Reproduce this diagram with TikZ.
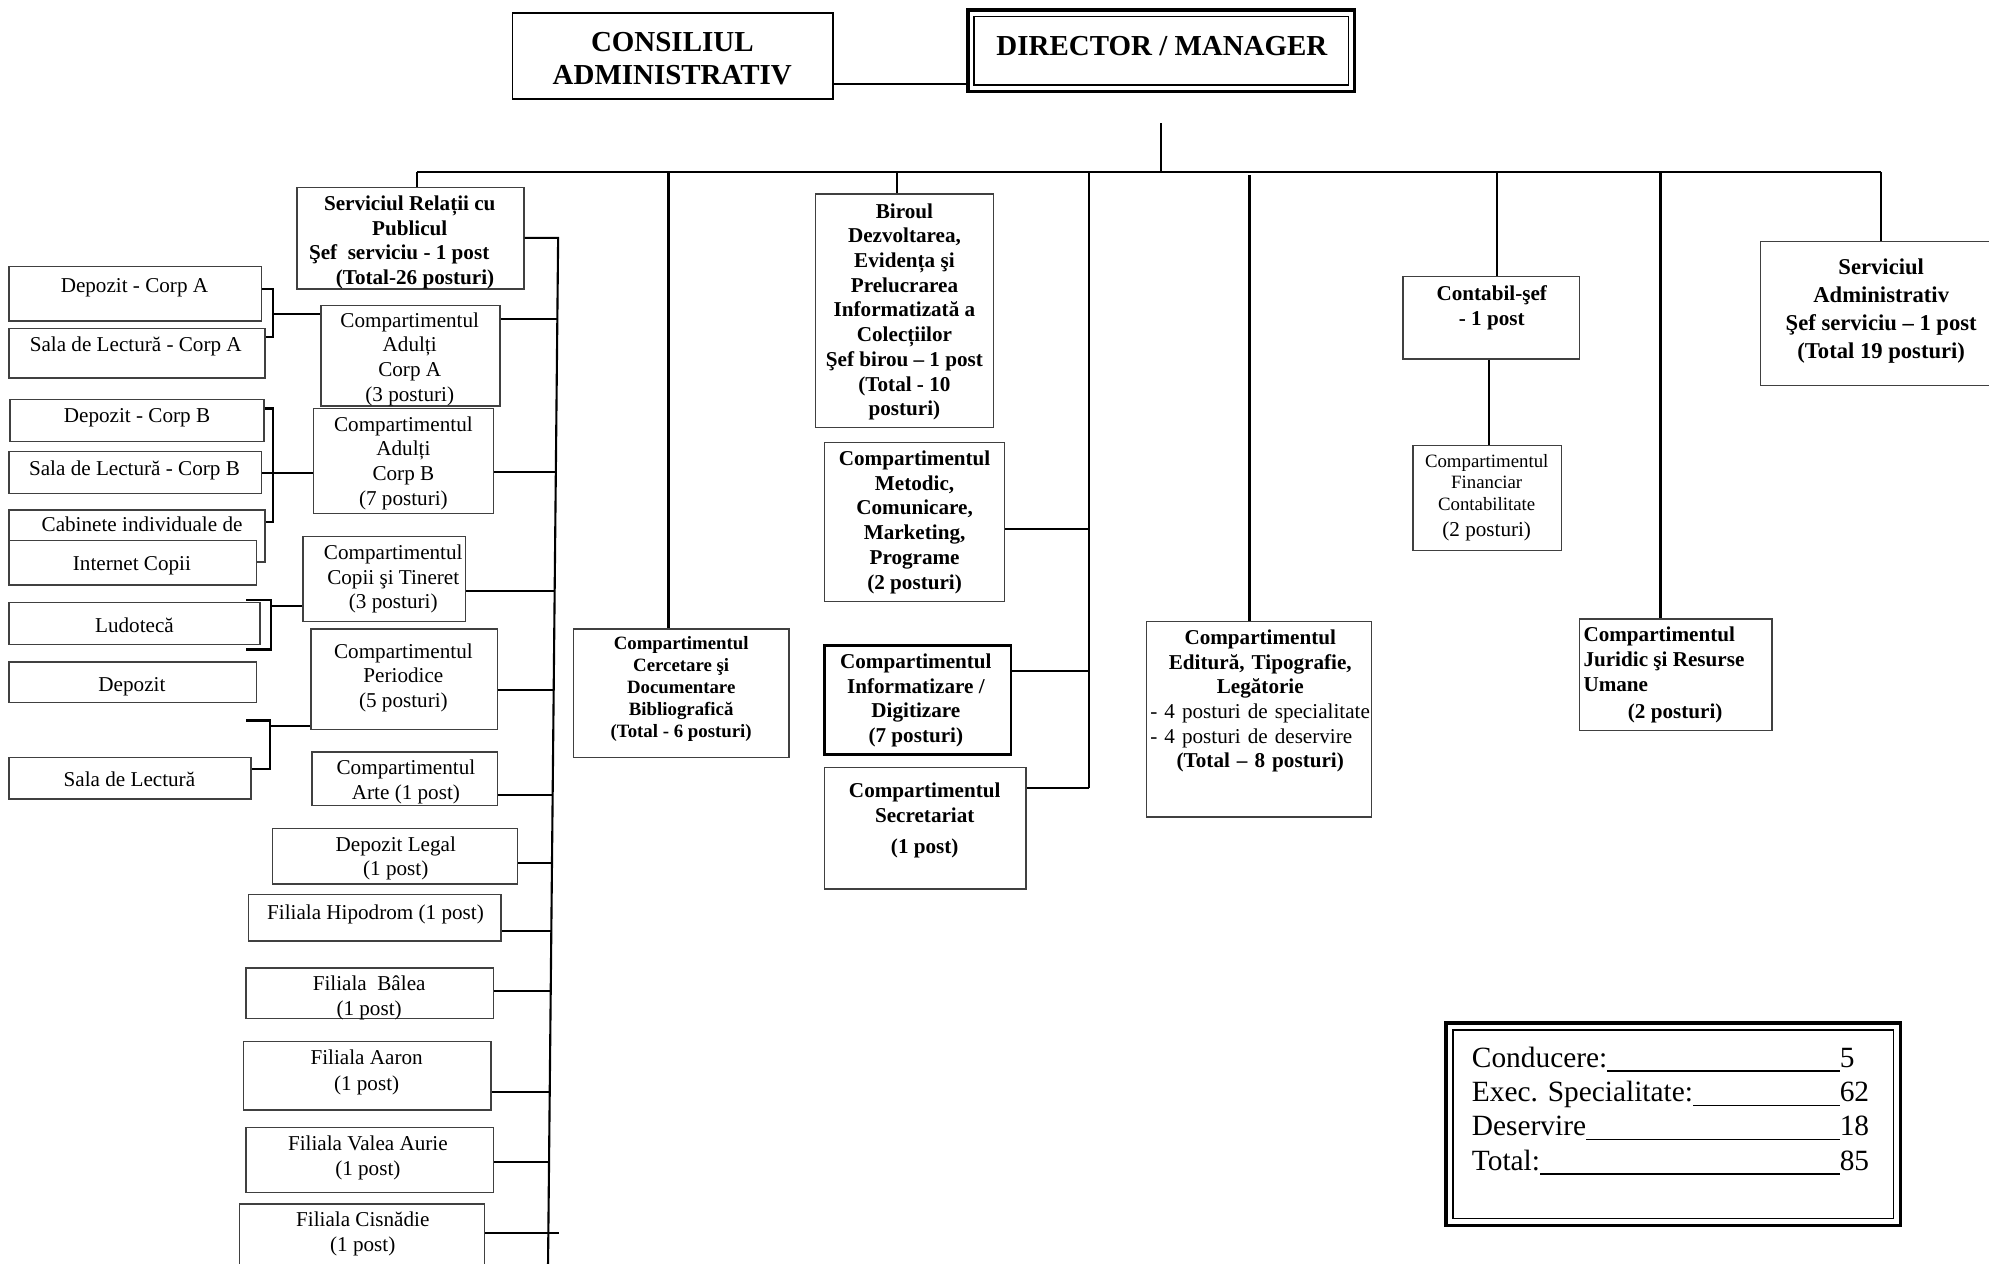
\documentclass[tikz,border=0pt]{standalone}
\usepackage{fontspec}
\setmainfont{Liberation Serif}
\usetikzlibrary{calc,fit}
\newcommand{\ufill}{\leaders\vrule height -1.4pt depth 2.1pt\hfill}
\tikzset{
  bx/.style={draw=black!75, line width=0.7pt, fill=white, inner sep=0pt},
  conn/.style={line width=1pt},
  tt/.style={align=center, inner sep=0pt, anchor=north, font=\fontsize{10}{11.7}\selectfont},
  tb/.style={tt, font=\fontsize{10}{11.7}\selectfont\bfseries},
}
\begin{document}
\begin{tikzpicture}[x=0.6pt,y=-0.6pt]
\useasboundingbox (0,0) rectangle (1568,996);

% ---------- top ----------
\node[bx, draw=black, line width=0.9pt, fit={(404,10) (657,78)}] (cons) {};
\node[tt, font=\fontsize{13.7}{15.6}\selectfont\bfseries] (cons-t) at (530,25.5) {CONSILIUL\\ADMINISTRATIV};
\node[bx, draw=black, line width=1.6pt, fit={(763,8) (1068,72)}] (dir) {};
\node[bx, draw=black, line width=0.7pt, fit={(768,13) (1063,67)}] (dir-in) {};
\node[tt, font=\fontsize{13.7}{15.6}\selectfont\bfseries] (dir-t) at (916,28.5) {DIRECTOR / MANAGER};
\coordinate (cdY) at (700,66);
\draw[conn] (cons.east |- cdY) -- (dir.west |- cdY);

% bus
\coordinate (b1) at (328.6,135.5);
\coordinate (b2) at (527,135.5);
\coordinate (b3) at (707,135.5);
\coordinate (b4) at (858.5,135.5);
\coordinate (b5) at (985,138);
\coordinate (b6) at (1180,135.5);
\coordinate (b7) at (1309,135.5);
\coordinate (b8) at (1483,135.5);
\coordinate (bD) at (915,135.5);
\coordinate (dtop) at (915,97);
\draw[conn] (b1) -- (b8);
\draw[conn] (dtop) -- (bD);

% ---------- left column ----------
\node[bx, fit={(234,148) (413,228)}] (srp) {};
\node[tb] (srp-t) at (323,154) {Serviciul Relații cu\\Publicul\\Şef\ \ serviciu - 1 post\kern10pt\hbox{}\\\ \ (Total-26 posturi)};
\node[bx, fit={(253,241) (394,320)}] (adA) {};
\node[tt] (adA-t) at (323,246) {Compartimentul\\Adulți\\Corp A\\(3 posturi)};
\node[bx, fit={(247,322) (389,405)}] (adB) {};
\node[tt] (adB-t) at (318,328) {Compartimentul\\Adulți\\Corp B\\(7 posturi)};
\node[bx, fit={(239,423) (367,490)}] (copii) {};
\node[tt] (copii-t) at (310,429) {Compartimentul\\Copii şi Tineret\\(3 posturi)};
\node[bx, fit={(245,496) (392,575)}] (period) {};
\node[tt] (period-t) at (318,507) {Compartimentul\\Periodice\\(5 posturi)};
\node[bx, fit={(246,593) (392,635)}] (arte) {};
\node[tt] (arte-t) at (320,599) {Compartimentul\\Arte (1 post)};
\node[bx, fit={(215,653) (408,697)}] (dlegal) {};
\node[tt] (dlegal-t) at (312,659) {Depozit Legal\\(1 post)};
\node[bx, fit={(196,705) (395,742)}] (hipo) {};
\node[tt] (hipo-t) at (296,713) {Filiala Hipodrom (1 post)};
\node[bx, fit={(194,763) (389,803)}] (balea) {};
\node[tt] (balea-t) at (291,769) {Filiala\ \ Bâlea\\(1 post)};
\node[bx, fit={(192,821) (387,875)}] (aaron) {};
\node[tt] (aaron-t) at (289,827) {Filiala Aaron\\[1pt](1 post)};
\node[bx, fit={(194,889) (389,940)}] (valea) {};
\node[tt] (valea-t) at (290,895) {Filiala Valea Aurie\\(1 post)};
\node[bx, fit={(189,949) (382,1010)}] (cisn) {};
\node[tt] (cisn-t) at (286,955) {Filiala Cisnădie\\(1 post)};

% far left
\node[bx, fit={(7,210) (206,253)}] (depA) {};
\node[tt] (depA-t) at (106,219) {Depozit - Corp A};
\node[bx, fit={(7,259) (209,298)}] (salaA) {};
\node[tt] (salaA-t) at (107,265) {Sala de Lectură - Corp A};
\node[bx, fit={(8,315) (208,348)}] (depB) {};
\node[tt] (depB-t) at (108,322) {Depozit - Corp B};
\node[bx, fit={(7,356) (206,389)}] (salaB) {};
\node[tt] (salaB-t) at (106,363) {Sala de Lectură - Corp B};
\node[bx, fit={(7,402) (209,443)}] (cab) {};
\node[tt] (cab-t) at (112,407) {Cabinete individuale de};
\node[bx, fit={(7,426) (202,461)}] (inet) {};
\node[tt] (inet-t) at (104,438) {Internet Copii};
\node[bx, fit={(7,475) (205,508)}] (ludo) {};
\node[tt] (ludo-t) at (106,487) {Ludotecă};
\node[bx, fit={(7,522) (202,554)}] (depz) {};
\node[tt] (depz-t) at (104,534) {Depozit};
\node[bx, fit={(7,597) (198,630)}] (sala) {};
\node[tt] (sala-t) at (102,608) {Sala de Lectură};

% brackets
\coordinate (brAt) at (215,228); \coordinate (brAb) at (215,266); \coordinate (brAm) at (215,247.5);
\draw[conn] (depA.east |- brAt) -- (brAt) -- (brAb) -- (salaA.east |- brAb);
\draw[conn] (brAm) -- (adA.west |- brAm);
\coordinate (brBt) at (215,322); \coordinate (brBb) at (215,411.5); \coordinate (brBm) at (215,373);
\draw[conn] (depB.east |- brBt) -- (brBt) -- (brBb) -- (cab.east |- brBb);
\draw[conn] (salaB.east |- brBm) -- (adB.west |- brBm);
\coordinate (brCt) at (213.5,473); \coordinate (brCb) at (213.5,512); \coordinate (brCm) at (213.5,478);
\coordinate (ctL) at (194,473); \coordinate (cbL) at (194,512);
\draw[conn] (ctL) -- (brCt) -- (brCb) -- (cbL);
\draw[conn] (brCm) -- (copii.west |- brCm);
\coordinate (brDt) at (213,568); \coordinate (brDb) at (213,606); \coordinate (brDm) at (213,572);
\coordinate (dtL) at (194,568);
\draw[conn] (dtL) -- (brDt) -- (brDb) -- (sala.east |- brDb);
\draw[conn] (brDm) -- (period.west |- brDm);

% column of left side
\coordinate (colT) at (440,187.5);
\coordinate (colB) at (432,1000);
\draw[conn] (b1) -- (srp.north -| b1);
\draw[conn] (srp.east |- colT) -- (colT) -- (colB);
\foreach \n/\yy in {adA/251.5, adB/372, copii/466, period/544, arte/627, dlegal/680, hipo/734, balea/781, aaron/861, valea/916}{
  \coordinate (c\n) at ($(colT)!{(\yy-187.5)/812.5}!(colB)$);
  \draw[conn] (\n.east |- c\n) -- (c\n);
}
\coordinate (ccisn) at (441,972);
\draw[conn] (cisn.east |- ccisn) -- (ccisn);

% ---------- middle ----------
\node[bx, fit={(452,496) (622,597)}] (cerc) {};
\node[tt, font=\fontsize{8.9}{10.35}\selectfont\bfseries] (cerc-t) at (537,501.7) {Compartimentul\\Cercetare şi\\Documentare\\Bibliografică\\(Total - 6 posturi)};
\draw[conn] (b2) -- (cerc.north -| b2);

\node[bx, fit={(643,153) (783,337)}] (bir) {};
\node[tb] (bir-t) at (713,160) {Biroul\\Dezvoltarea,\\Evidența şi\\Prelucrarea\\Informatizată a\\Colecțiilor\\Şef birou – 1 post\\(Total - 10\\posturi)};
\draw[conn] (b3) -- (bir.north -| b3);

\node[bx, fit={(650,349) (792,474)}] (met) {};
\node[tb] (met-t) at (721,355) {Compartimentul\\Metodic,\\Comunicare,\\Marketing,\\Programe\\(2 posturi)};
\node[bx, draw=black, line width=1.3pt, fit={(650,509) (797,595)}] (info) {};
\node[tb] (info-t) at (722,515) {Compartimentul\\Informatizare /\\Digitizare\\(7 posturi)};
\node[bx, fit={(650,605) (809,701)}] (secr) {};
\node[tb] (secr-t) at (729,617) {Compartimentul\\Secretariat\\[3pt](1 post)};

\coordinate (mM) at (858.5,417);
\coordinate (mI) at (858.5,529);
\coordinate (mEnd) at (858.5,621);
\draw[conn] (b4) -- (mEnd);
\draw[conn] (met.east |- mM) -- (mM);
\draw[conn] (info.east |- mI) -- (mI);
\draw[conn] (secr.east |- mEnd) -- (mEnd);

% ---------- right ----------
\node[bx, fit={(904,490) (1081,644)}] (edit) {};
\node[anchor=north west, inner sep=0pt, text width=104pt, font=\fontsize{10}{11.7}\selectfont] (edit-t) at (906.5,496)
 {{\centering\bfseries Compartimentul\\Editură, Tipografie,\\Legătorie\par}{\raggedright - 4 posturi de specialitate\\- 4 posturi de deservire\par}{\centering\bfseries (Total – 8 posturi)\par}};
\draw[conn] (b5) -- (edit.north -| b5);

\node[bx, fit={(1106,218) (1245,283)}] (cont) {};
\node[tb] (cont-t) at (1176,225) {Contabil-şef\\- 1 post};
\draw[conn] (b6) -- (cont.north -| b6);

\node[bx, fit={(1114,351) (1231,434)}] (fin) {};
\node[tt, font=\fontsize{8.9}{10.2}\selectfont] (fin-t) at (1172,357.7) {Compartimentul\\Financiar\\Contabilitate\\[2pt]{\fontsize{10}{11.7}\selectfont (2 posturi)}};
\coordinate (fx) at (1174,300);
\draw[conn] (cont.south -| fx) -- (fin.north -| fx);

\node[bx, fit={(1245,488) (1397,576)}] (jur) {};
\node[anchor=north west, inner sep=0pt, align=left, font=\fontsize{10}{11.7}\selectfont\bfseries] (jur-t) at (1248,494) {Compartimentul\\Juridic şi Resurse\\Umane\\[1pt]\hspace*{21pt}(2 posturi)};
\draw[conn] (b7) -- (jur.north -| b7);

\node[bx, fit={(1388,190.5) (1580,304)}] (sa) {};
\node[tt, font=\fontsize{10.7}{13.2}\selectfont\bfseries] (sa-t) at (1483,203.6) {Serviciul\\Administrativ\\Şef serviciu – 1 post\\(Total 19 posturi)};
\draw[conn] (b8) -- (sa.north -| b8);

% ---------- summary ----------
\node[bx, draw=black, line width=1.6pt, fit={(1140,806.5) (1498,966)}] (sum) {};
\node[bx, draw=black, line width=0.7pt, fit={(1145.5,812) (1492.5,960.5)}] (sum-in) {};
\node[anchor=north west, inner sep=0pt, align=left, font=\fontsize{13.9}{16.2}\selectfont] (sum-t) at (1160,825)
 {\hbox to 174pt{Conducere:\ufill}5\\
  \hbox to 174pt{Exec. Specialitate:\ufill}62\\
  \hbox to 174pt{Deservire\ufill}18\\
  \hbox to 174pt{Total:\ufill}85};
\end{tikzpicture}
\end{document}
